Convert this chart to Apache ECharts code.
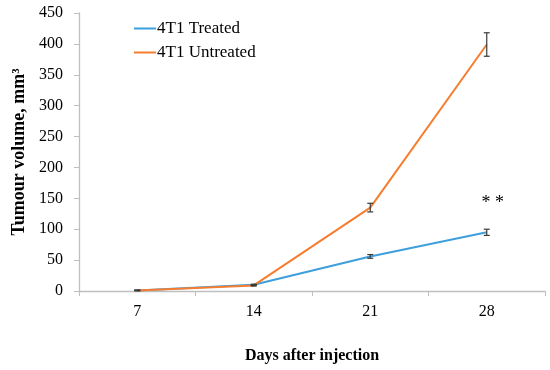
<!DOCTYPE html>
<html><head><meta charset="utf-8">
<script src="https://cdn.jsdelivr.net/npm/echarts@6/dist/echarts.min.js"></script>
<style>html,body{margin:0;padding:0;background:#fff}#c{width:550px;height:370px}</style>
</head><body><div id="c"></div>
<script>
const days = ['7', '14', '21', '28'];
const treated = [1, 10, 56, 95];
const treatedErr = [0.5, 1, 3, 5];
const untreated = [1, 9, 135, 399];
const untreatedErr = [0.5, 1, 7, 19];
const yTicks = [0, 50, 100, 150, 200, 250, 300, 350, 400, 450];
const sigLabel = '* *';
const sigPos = ['28', 142];

const font = '"Liberation Serif", "Times New Roman", serif';
function errData(vals, errs){ return vals.map((v,i)=>[i, v-errs[i], v+errs[i]]); }
function errSeries(vals, errs){
  return {
    type: 'custom', silent: true, z: 5,
    data: errData(vals, errs),
    renderItem: function(params, api){
      const lo = api.coord([api.value(0), api.value(1)]);
      const hi = api.coord([api.value(0), api.value(2)]);
      const w = 3;
      const st = {stroke:'#3a3a3a', lineWidth:1.2};
      return {type:'group', children:[
        {type:'line', shape:{x1:lo[0],y1:lo[1],x2:hi[0],y2:hi[1]}, style:st},
        {type:'line', shape:{x1:lo[0]-w,y1:lo[1],x2:lo[0]+w,y2:lo[1]}, style:st},
        {type:'line', shape:{x1:hi[0]-w,y1:hi[1],x2:hi[0]+w,y2:hi[1]}, style:st}
      ]};
    }
  };
}
const chart = echarts.init(document.getElementById('c'));
chart.setOption({
  animation: false,
  grid: {left: 79, right: 5, top: 13, bottom: 79},
  legend: {
    orient: 'vertical', left: 129, top: 15, itemGap: 7,
    itemWidth: 22, itemHeight: 2, icon: 'rect',
    textStyle: {fontFamily: font, fontSize: 17, color: '#000', padding:[0,0,0,-4]},
    data: ['4T1 Treated', '4T1 Untreated']
  },
  xAxis: {
    type: 'category', data: days, boundaryGap: true,
    name: 'Days after injection', nameLocation: 'middle', nameGap: 57,
    nameTextStyle: {fontFamily: font, fontSize: 16, fontWeight: 'bold', color: '#000'},
    axisLine: {lineStyle: {color: '#bfbfbf', width: 1.3}},
    axisTick: {show: true, length: 5, inside: false, lineStyle: {color: '#bfbfbf'}},
    axisLabel: {fontFamily: font, fontSize: 16, color: '#000', margin: 13}
  },
  yAxis: {
    type: 'value', min: 0, max: 450, interval: 50,
    name: 'Tumour volume, mm³', nameLocation: 'middle', nameGap: 47,
    nameTextStyle: {fontFamily: font, fontSize: 18, fontWeight: 'bold', color: '#000'},
    splitLine: {show: false},
    axisLine: {show: true, lineStyle: {color: '#bfbfbf', width: 1.3}},
    axisTick: {show: true, length: 5, lineStyle: {color: '#bfbfbf'}},
    axisLabel: {fontFamily: font, fontSize: 16, color: '#000', margin: 16,
      formatter: v => yTicks.includes(v) ? String(v) : ''}
  },
  series: [
    {name: '4T1 Treated', type: 'line', data: treated, showSymbol: false,
     symbol: 'none', color: '#3d9fdc', lineStyle: {width: 2, color: '#3d9fdc'}, z: 3},
    {name: '4T1 Untreated', type: 'line', data: untreated, showSymbol: false,
     symbol: 'none', color: '#f67d2f', lineStyle: {width: 2, color: '#f67d2f'}, z: 4,
     markPoint: {symbol: 'circle', symbolSize: 0, silent: true,
       data: [{coord: sigPos, label: {show: true, formatter: sigLabel, position: 'inside',
         offset: [6, 0], fontFamily: font, fontSize: 18, color: '#000'}}]}},
    errSeries(treated, treatedErr),
    errSeries(untreated, untreatedErr)
  ]
});
</script></body></html>
